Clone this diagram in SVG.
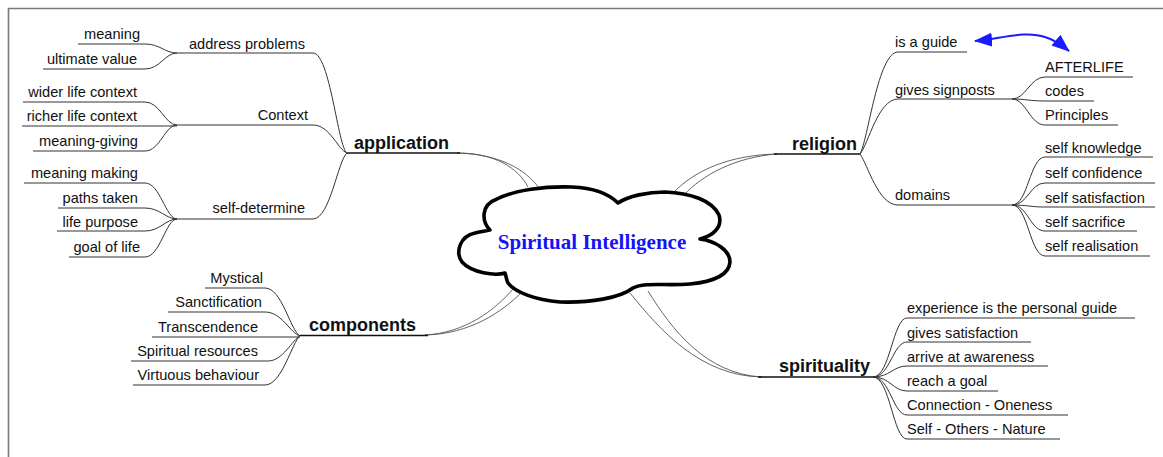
<svg xmlns="http://www.w3.org/2000/svg" width="1163" height="457" viewBox="0 0 1163 457">
  <style>
    .leaf { font-family: "Liberation Sans", Arial, sans-serif; font-size: 14.6px; fill: #111; }
    .end { text-anchor: end; }
    .main { font-family: "Liberation Sans", Arial, sans-serif; font-size: 18px; font-weight: bold; fill: #111; }
    .title { font-family: "Liberation Serif", "Times New Roman", serif; font-size: 21px; font-weight: bold; fill: #1414f5; text-anchor: middle; }
    .link { fill: none; stroke: #333; stroke-width: 1; }
    .trunk { fill: none; stroke: #111; stroke-width: 1.3; }
    .band { fill: none; stroke: #555; stroke-width: 0.9; }
    .frame { fill: none; stroke: #7a7a7a; stroke-width: 1.6; }
    .cloud { fill: #fff; stroke: #000; stroke-width: 3.6; stroke-linejoin: round; }
    .rel { fill: none; stroke: #1a1aff; stroke-width: 2; }
  </style>
  <defs>
    <marker id="head" viewBox="0 0 18 14" refX="17" refY="7" markerWidth="18" markerHeight="14" markerUnits="userSpaceOnUse" orient="auto-start-reverse">
      <path d="M0,0 L18,7 L0,14 Z" fill="#1a1aff"/>
    </marker>
  </defs>

  <rect width="1163" height="457" fill="#fff"/>
  <path class="frame" d="M8.5,457 V8.5 H1163"/>

  <g id="connectors">
    <!-- trunks from the centre to each main topic -->
    <path class="band" d="M457,153 C495,153 518,168 528,187"/>
    <path class="band" d="M457,153 C500,154 526,170 539,188"/>
    <path class="band" d="M425,335 C465,333 495,310 513,289"/>
    <path class="band" d="M425,335 C470,334 502,312 522,292"/>
    <path class="band" d="M777,154 C730,155 695,170 673,193"/>
    <path class="band" d="M777,154 C736,157 702,175 684,195"/>
    <path class="band" d="M762,377 C700,376 660,330 630,293"/>
    <path class="band" d="M762,377 C706,374 672,330 648,291"/>
    <path class="trunk" d="M347,153 H460"/>
    <path class="trunk" d="M300,335.5 H428"/>
    <path class="trunk" d="M774,154 H860"/>
    <path class="trunk" d="M758,377 H873"/>

    <!-- application -->
    <path class="link" d="M177,53 H313 C330,53 338,148 347,153"/>
    <path class="link" d="M177,125 H313 C330,125 338,150 347,153"/>
    <path class="link" d="M177,219 H313 C330,219 338,160 347,153"/>
    <path class="link" d="M78,44 H145 C160,44 165,53 177,53"/>
    <path class="link" d="M43,69 H145 C160,69 165,53 177,53"/>
    <path class="link" d="M23,102 H145 C160,102 165,125 177,125"/>
    <path class="link" d="M22,126 H177"/>
    <path class="link" d="M33,151 H145 C160,151 165,125 177,125"/>
    <path class="link" d="M24,183 H145 C160,183 166,219 177,219"/>
    <path class="link" d="M58,208 H145 C160,208 166,219 177,219"/>
    <path class="link" d="M57,231 H145 C160,231 166,219 177,219"/>
    <path class="link" d="M69,257 H145 C160,257 166,219 177,219"/>

    <!-- components -->
    <path class="link" d="M205,288 H265 C282,288 290,330 300,336"/>
    <path class="link" d="M168,312 H265 C282,312 290,333 300,336"/>
    <path class="link" d="M152,337 H300"/>
    <path class="link" d="M131,361 H268 C283,361 292,340 300,336"/>
    <path class="link" d="M133,385 H265 C282,385 292,342 300,336"/>

    <!-- religion -->
    <path class="link" d="M967,52 H898 C878,52 868,140 860,154"/>
    <path class="link" d="M1012,99 H898 C878,99 868,145 860,154"/>
    <path class="link" d="M1012,205 H898 C878,205 868,165 860,154"/>
    <path class="link" d="M1012,99 C1026,99 1030,77 1045,77 H1133"/>
    <path class="link" d="M1012,99 C1026,99 1030,101 1045,101 H1094"/>
    <path class="link" d="M1012,99 C1026,99 1030,125 1045,125 H1118"/>
    <path class="link" d="M1012,205 C1028,205 1030,157 1045,157 H1153"/>
    <path class="link" d="M1012,205 C1028,205 1030,183 1045,183 H1155"/>
    <path class="link" d="M1012,205 C1028,205 1030,207 1045,207 H1155"/>
    <path class="link" d="M1012,205 C1028,205 1030,231 1045,231 H1137"/>
    <path class="link" d="M1012,205 C1028,205 1030,256 1045,256 H1150"/>

    <!-- spirituality -->
    <path class="link" d="M873,377 C890,377 893,318 907,318 H1135"/>
    <path class="link" d="M873,377 C890,377 893,342 907,342 H1031"/>
    <path class="link" d="M873,377 C890,377 893,366 907,366 H1048"/>
    <path class="link" d="M873,377 C890,377 893,391 907,391 H998"/>
    <path class="link" d="M873,377 C890,377 893,415 907,415 H1068"/>
    <path class="link" d="M873,377 C890,377 893,439 907,439 H1060"/>

    <!-- cross-reference between "is a guide" and AFTERLIFE -->
    <path class="rel" d="M975,41 C1000,39 1025,30 1045,37 C1055,40 1063,46 1069,51" marker-start="url(#head)" marker-end="url(#head)"/>
  </g>

  <g id="centre">
    <path class="cloud" d="M490,230 C482,222 480,205 497,199 C515,190 545,186 572,187 C595,188 610,195 618,203 C628,196 648,192 665,192 C690,193 712,200 719,215 C723,228 712,236 700,239 C715,241 730,250 730,262 C729,276 710,282 690,284 C665,286 645,282 633,288 C620,298 590,303 560,302 C535,300 515,292 508,283 C506,279 506,275 505,273 C495,276 472,273 462,262 C455,252 460,236 475,233 C482,231 488,231 490,230 Z"/>
    <text class="title" x="592" y="249">Spiritual Intelligence</text>
  </g>

  <g id="application">
    <text class="main" x="354" y="149">application</text>
  </g>
  <g id="address-problems">
    <text class="leaf end" x="305" y="49">address problems</text>
  </g>
  <g id="meaning"><text class="leaf end" x="140" y="39">meaning</text></g>
  <g id="ultimate-value"><text class="leaf end" x="137" y="64">ultimate value</text></g>
  <g id="context"><text class="leaf end" x="308" y="120">Context</text></g>
  <g id="wider-life-context"><text class="leaf end" x="137" y="97">wider life context</text></g>
  <g id="richer-life-context"><text class="leaf end" x="137" y="121">richer life context</text></g>
  <g id="meaning-giving"><text class="leaf end" x="138" y="146">meaning-giving</text></g>
  <g id="self-determine"><text class="leaf end" x="305" y="213">self-determine</text></g>
  <g id="meaning-making"><text class="leaf end" x="138" y="178">meaning making</text></g>
  <g id="paths-taken"><text class="leaf end" x="138" y="203">paths taken</text></g>
  <g id="life-purpose"><text class="leaf end" x="138" y="227">life purpose</text></g>
  <g id="goal-of-life"><text class="leaf end" x="140" y="252">goal of life</text></g>

  <g id="components">
    <text class="main" x="309" y="331">components</text>
  </g>
  <g id="mystical"><text class="leaf end" x="263" y="283">Mystical</text></g>
  <g id="sanctification"><text class="leaf end" x="262" y="307">Sanctification</text></g>
  <g id="transcendence"><text class="leaf end" x="258" y="332">Transcendence</text></g>
  <g id="spiritual-resources"><text class="leaf end" x="258" y="356">Spiritual resources</text></g>
  <g id="virtuous-behaviour"><text class="leaf end" x="259" y="380">Virtuous behaviour</text></g>

  <g id="religion">
    <text class="main" x="792" y="150">religion</text>
  </g>
  <g id="is-a-guide"><text class="leaf" x="895" y="47">is a guide</text></g>
  <g id="gives-signposts"><text class="leaf" x="895" y="95">gives signposts</text></g>
  <g id="afterlife"><text class="leaf" x="1045" y="72">AFTERLIFE</text></g>
  <g id="codes"><text class="leaf" x="1045" y="96">codes</text></g>
  <g id="principles"><text class="leaf" x="1045" y="120">Principles</text></g>
  <g id="domains"><text class="leaf" x="895" y="200">domains</text></g>
  <g id="self-knowledge"><text class="leaf" x="1045" y="153">self knowledge</text></g>
  <g id="self-confidence"><text class="leaf" x="1045" y="178">self confidence</text></g>
  <g id="self-satisfaction"><text class="leaf" x="1045" y="203">self satisfaction</text></g>
  <g id="self-sacrifice"><text class="leaf" x="1045" y="227">self sacrifice</text></g>
  <g id="self-realisation"><text class="leaf" x="1045" y="251">self realisation</text></g>

  <g id="spirituality">
    <text class="main" x="779" y="372">spirituality</text>
  </g>
  <g id="experience"><text class="leaf" x="907" y="313">experience is the personal guide</text></g>
  <g id="gives-satisfaction"><text class="leaf" x="907" y="338">gives satisfaction</text></g>
  <g id="arrive-at-awareness"><text class="leaf" x="907" y="362">arrive at awareness</text></g>
  <g id="reach-a-goal"><text class="leaf" x="907" y="386">reach a goal</text></g>
  <g id="connection-oneness"><text class="leaf" x="907" y="410">Connection - Oneness</text></g>
  <g id="self-others-nature"><text class="leaf" x="907" y="434">Self - Others - Nature</text></g>
</svg>
